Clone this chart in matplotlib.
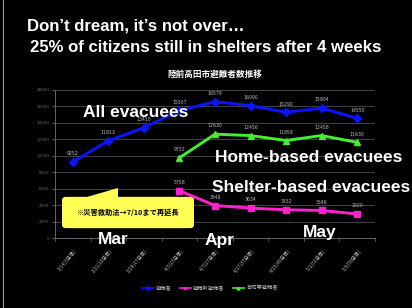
import numpy as np
import matplotlib.pyplot as plt
from matplotlib.patches import FancyBboxPatch, Polygon
from matplotlib.lines import Line2D

plt.rcParams['font.family'] = ['Noto Sans CJK JP', 'DejaVu Sans']

# data
dates = ['3/14(3日目)', '3/21(10日目)', '3/28(17日目)', '4/3(23日目)', '4/7(27日目)',
         '4/17(37日目)', '4/25(45日目)', '5/1(51日目)', '5/9(59日目)']
all_evac = [9252, 11813, 13410, 15507, 16579, 16090, 15290, 15804, 14550]
shelter = [None, None, None, 5758, 3949, 3634, 3432, 3346, 2920]
home = [None, None, None, 9752, 12630, 12456, 11858, 12458, 11630]
yticks = list(range(0, 18001, 2000))
series_names = ['避難者', '避難所避難者', '自宅等避難者']

W, H = 412, 308
fig = plt.figure(figsize=(W / 100, H / 100), dpi=100, facecolor='black')


def fx(px):
    return px / W


def fy(py):
    return 1 - py / H


ax = fig.add_axes([fx(55), fy(238), 320 / W, 148 / H])
ax.set_facecolor('black')
x = np.arange(len(dates)) + 0.5


def plot_series(vals, color, marker, ms):
    xs = [xi for xi, v in zip(x, vals) if v is not None]
    ys = [v for v in vals if v is not None]
    ax.plot(xs, ys, color=color, lw=2.1, marker=marker, ms=ms, zorder=3)
    for xi, v in zip(xs, ys):
        ax.text(xi, v + 700, str(v), color='#bbbbbb', fontsize=3.3, ha='center', va='bottom',
                family='DejaVu Sans')
    return xs, ys


plot_series(all_evac, '#0a14ff', 'D', 3.8)
plot_series(home, '#44ee33', '^', 4.2)
plot_series(shelter, '#ff22cc', 's', 3.8)

ax.set_xlim(0, len(dates))
ax.set_ylim(0, 18000)
ax.set_yticks(yticks)
ax.set_yticklabels([str(v) for v in yticks], fontsize=3, color='#cccccc', family='DejaVu Sans')
ax.grid(axis='y', color='#444444', lw=0.7)
ax.set_axisbelow(True)
ax.set_xticks(np.arange(len(dates) + 1))
ax.set_xticklabels([])
ax.tick_params(axis='both', colors='#666666', length=2, width=0.6, pad=2)
for s in ['top', 'right']:
    ax.spines[s].set_visible(False)
for s in ['left', 'bottom']:
    ax.spines[s].set_color('#666666')
    ax.spines[s].set_linewidth(0.7)

# rotated date labels
for xi, d in zip(x, dates):
    ax.text(xi + 0.15, -1200, d, rotation=50, ha='right', va='top', fontsize=3.6,
            color='#bbbbbb')

# chart title
fig.text(fx(215), fy(74), '陸前高田市避難者数推移', color='white', fontsize=6.2,
         ha='center', va='center', fontweight='bold')

# slide headline
fig.text(fx(27), fy(26), 'Don\u2019t dream, it\u2019s not over\u2026', color='white',
         fontsize=12.1, fontweight='bold', family='Liberation Sans', ha='left', va='center')
fig.text(fx(30), fy(47), '25% of citizens still in shelters after 4 weeks', color='white',
         fontsize=12.1, fontweight='bold', family='Liberation Sans', ha='left', va='center')

# series annotations
big = dict(color='white', fontsize=12.5, fontweight='bold', family='Liberation Sans',
           va='center')
fig.text(fx(83), fy(113), 'All evacuees', ha='left', zorder=5, **big)
fig.text(fx(215), fy(157), 'Home-based evacuees', ha='left', **big)
fig.text(fx(212), fy(188), 'Shelter-based evacuees', ha='left', **big)
fig.text(fx(113), fy(240), 'Mar', ha='center', **big)
fig.text(fx(220), fy(240), 'Apr', ha='center', **big)
fig.text(fx(320), fy(232), 'May', ha='center', **big)

# yellow callout
box = FancyBboxPatch((fx(66), fy(225)), fx(124), 25 / H, boxstyle='round,pad=0.008',
                     transform=fig.transFigure, facecolor='#ffff55', edgecolor='#ffff55')
fig.patches.append(box)
wedge = Polygon([(fx(80), fy(199)), (fx(118), fy(188)), (fx(118), fy(199))],
                closed=True, transform=fig.transFigure, facecolor='#ffff55', edgecolor='none')
fig.patches.append(wedge)
fig.text(fx(128), fy(212), '※災害救助法→7/10まで再延長', color='black', fontsize=5.2,
         ha='center', va='center', fontweight='bold')

# legend
handles = [Line2D([], [], color='#0a14ff', marker='D', ms=2, lw=1.2),
           Line2D([], [], color='#ff22cc', marker='s', ms=2, lw=1.2),
           Line2D([], [], color='#44ee33', marker='^', ms=2, lw=1.2)]
fig.legend(handles, series_names, loc='center', bbox_to_anchor=(fx(210), fy(288)), ncol=3,
           frameon=False, fontsize=3.8, labelcolor='#bbbbbb', handlelength=2.2,
           columnspacing=1.5, handletextpad=0.4)

# slide edge
fig.add_artist(Line2D([fx(3), fx(3)], [0, 1], transform=fig.transFigure, color='#999999', lw=0.8))

fig.savefig('out.png', dpi=100, facecolor='black')
